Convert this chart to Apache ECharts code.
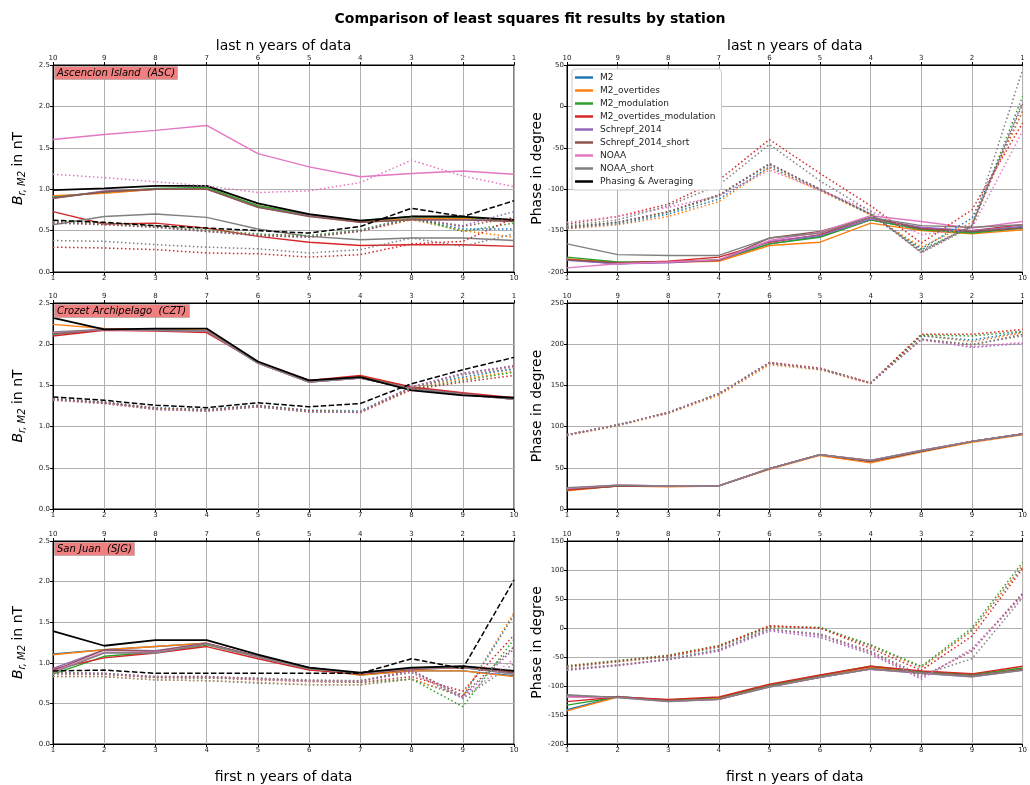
<!DOCTYPE html>
<html>
<head>
<meta charset="utf-8">
<script src="https://cdn.jsdelivr.net/npm/echarts@6/dist/echarts.min.js"></script>
<style>html,body{margin:0;padding:0;background:#fff;}#chart{width:1030px;height:785px;}</style>
</head>
<body>
<div id="chart"></div>
<script>
// ---- data ----
const seriesNames = ['M2','M2_overtides','M2_modulation','M2_overtides_modulation','Schrepf_2014','Schrepf_2014_short','NOAA','NOAA_short','Phasing & Averaging'];
const seriesColors = ['#1f77b4','#ff7f0e','#2ca02c','#d62728','#9467bd','#8c564b','#e377c2','#7f7f7f','#000000'];
const firstN = [1,2,3,4,5,6,7,8,9,10];
const lastN = [10,9,8,7,6,5,4,3,2,1];
const stations = ['Ascencion Island  (ASC)','Crozet Archipelago  (CZT)','San Juan  (SJG)'];

// Amplitude, first n years (one row per series, in seriesNames order)
const ascAmpFirst = [
 [0.91,0.96,1.00,1.01,0.79,0.68,0.61,0.64,0.65,0.62],
 [0.92,0.95,1.00,1.01,0.80,0.69,0.61,0.64,0.65,0.63],
 [0.90,0.97,1.01,1.02,0.80,0.69,0.62,0.67,0.66,0.63],
 [0.73,0.58,0.59,0.53,0.43,0.36,0.32,0.33,0.33,0.31],
 [0.89,0.98,1.00,1.00,0.78,0.68,0.60,0.63,0.63,0.62],
 [0.89,0.97,1.00,1.00,0.78,0.67,0.60,0.63,0.63,0.61],
 [1.60,1.66,1.71,1.77,1.43,1.27,1.15,1.19,1.22,1.18],
 [0.57,0.67,0.70,0.66,0.52,0.43,0.39,0.41,0.41,0.38],
 [0.99,1.01,1.04,1.04,0.83,0.70,0.62,0.67,0.67,0.63]
];
// Amplitude, last n years (values listed for n = 10 .. 1)
const ascAmpLast = [
 [0.60,0.58,0.55,0.50,0.45,0.43,0.50,0.64,0.52,0.52],
 [0.61,0.58,0.55,0.50,0.45,0.43,0.50,0.63,0.50,0.42],
 [0.62,0.59,0.56,0.51,0.46,0.44,0.51,0.66,0.49,0.59],
 [0.30,0.29,0.27,0.23,0.22,0.18,0.21,0.34,0.37,0.65],
 [0.60,0.58,0.54,0.49,0.44,0.42,0.50,0.65,0.56,0.73],
 [0.59,0.57,0.54,0.49,0.44,0.42,0.49,0.64,0.55,0.66],
 [1.18,1.14,1.09,1.04,0.96,0.98,1.08,1.35,1.16,1.03],
 [0.38,0.37,0.33,0.30,0.28,0.23,0.27,0.41,0.31,0.46],
 [0.625,0.60,0.56,0.53,0.50,0.47,0.55,0.77,0.67,0.86]
];
const ascPhaseFirst = [
 [-185,-190,-188,-186,-166,-157,-137,-148,-152,-146],
 [-184,-189,-188,-187,-168,-164,-141,-150,-154,-149],
 [-182,-188,-188,-185,-166,-158,-137,-149,-153,-147],
 [-185,-189,-187,-182,-164,-155,-134,-147,-150,-143],
 [-186,-190,-189,-186,-163,-156,-136,-146,-150,-145],
 [-185,-189,-188,-186,-159,-151,-134,-148,-151,-147],
 [-195,-190,-188,-185,-162,-152,-132,-139,-147,-139],
 [-166,-179,-180,-180,-159,-153,-134,-144,-146,-143]
];
const ascPhaseLast = [
 [-147,-142,-130,-112,-73,-101,-130,-172,-135,-6],
 [-148,-143,-133,-115,-74,-102,-131,-170,-140,-6],
 [-145,-140,-128,-108,-70,-100,-131,-173,-145,12],
 [-142,-133,-118,-89,-40,-81,-120,-165,-125,-20],
 [-147,-140,-127,-107,-70,-100,-130,-175,-143,5],
 [-146,-140,-127,-107,-69,-100,-130,-176,-144,3],
 [-140,-133,-122,-108,-77,-101,-126,-155,-147,-30],
 [-144,-137,-120,-95,-46,-90,-127,-177,-145,44]
];
const cztAmpFirst = [
 [2.12,2.18,2.17,2.16,1.78,1.55,1.60,1.46,1.40,1.34],
 [2.24,2.19,2.18,2.17,1.78,1.55,1.60,1.46,1.40,1.34],
 [2.12,2.18,2.17,2.16,1.78,1.55,1.61,1.47,1.40,1.34],
 [2.10,2.17,2.16,2.14,1.78,1.56,1.62,1.48,1.41,1.35],
 [2.13,2.18,2.17,2.16,1.77,1.54,1.59,1.46,1.40,1.33],
 [2.13,2.18,2.17,2.16,1.77,1.54,1.59,1.46,1.40,1.33],
 [2.14,2.18,2.17,2.16,1.77,1.54,1.59,1.46,1.39,1.33],
 [2.15,2.18,2.17,2.16,1.77,1.54,1.59,1.46,1.39,1.33],
 [2.32,2.18,2.19,2.19,1.79,1.56,1.60,1.44,1.38,1.35]
];
const cztAmpLast = [
 [1.34,1.30,1.23,1.21,1.26,1.20,1.19,1.48,1.60,1.70],
 [1.33,1.29,1.22,1.20,1.25,1.19,1.18,1.47,1.58,1.67],
 [1.33,1.29,1.22,1.20,1.25,1.19,1.18,1.46,1.56,1.66],
 [1.33,1.29,1.22,1.20,1.25,1.19,1.17,1.45,1.54,1.62],
 [1.33,1.29,1.21,1.19,1.24,1.18,1.18,1.48,1.65,1.74],
 [1.33,1.29,1.21,1.19,1.24,1.18,1.18,1.48,1.64,1.73],
 [1.32,1.28,1.21,1.19,1.24,1.18,1.18,1.48,1.64,1.72],
 [1.32,1.28,1.21,1.19,1.24,1.18,1.18,1.47,1.63,1.70],
 [1.36,1.32,1.26,1.23,1.29,1.24,1.28,1.52,1.69,1.84]
];
const cztPhaseFirst = [
 [24,28,28,28,49,66,58,70,82,91],
 [22,28,27,28,48,65,56,69,81,90],
 [24,28,28,28,49,66,58,70,82,91],
 [23,28,28,28,49,66,58,70,82,91],
 [25,29,28,28,49,66,59,71,82,91],
 [24,28,28,28,49,66,58,70,82,91],
 [25,29,28,28,49,66,59,71,82,91],
 [26,29,28,28,49,66,59,71,82,91]
];
const cztPhaseLast = [
 [90,102,117,140,177,170,153,210,205,215],
 [89,101,116,138,175,169,152,211,203,214],
 [90,102,117,140,177,170,153,211,210,216],
 [90,102,117,140,178,171,153,212,212,218],
 [90,102,117,140,177,170,153,206,196,201],
 [90,102,117,140,177,170,153,206,199,212],
 [90,102,117,140,177,170,153,205,197,202],
 [90,102,117,140,177,170,153,206,200,210]
];
const sjgAmpFirst = [
 [1.11,1.16,1.20,1.24,1.08,0.93,0.85,0.90,0.90,0.84],
 [1.10,1.16,1.20,1.24,1.08,0.93,0.85,0.90,0.90,0.83],
 [0.86,1.08,1.13,1.22,1.07,0.92,0.86,0.92,0.94,0.88],
 [0.92,1.06,1.12,1.20,1.05,0.91,0.86,0.92,0.94,0.88],
 [0.93,1.16,1.15,1.24,1.08,0.94,0.87,0.93,0.95,0.87],
 [0.90,1.16,1.14,1.24,1.08,0.94,0.87,0.93,0.95,0.87],
 [0.89,1.13,1.13,1.23,1.07,0.93,0.87,0.93,0.94,0.86],
 [0.88,1.12,1.12,1.23,1.07,0.93,0.87,0.93,0.94,0.86],
 [1.39,1.21,1.28,1.28,1.10,0.94,0.88,0.94,0.96,0.90]
];
const sjgAmpLast = [
 [0.83,0.83,0.79,0.78,0.75,0.73,0.73,0.80,0.58,1.59],
 [0.83,0.83,0.79,0.78,0.76,0.73,0.73,0.80,0.59,1.62],
 [0.86,0.86,0.82,0.81,0.80,0.77,0.76,0.80,0.46,1.29],
 [0.87,0.86,0.82,0.82,0.79,0.77,0.76,0.83,0.65,1.34],
 [0.87,0.87,0.83,0.83,0.80,0.78,0.77,0.91,0.58,1.17],
 [0.88,0.87,0.83,0.83,0.81,0.78,0.78,0.90,0.60,1.20],
 [0.86,0.86,0.82,0.82,0.80,0.77,0.77,0.89,0.57,1.05],
 [0.87,0.86,0.82,0.82,0.81,0.79,0.78,0.88,0.56,0.99],
 [0.90,0.91,0.87,0.87,0.87,0.87,0.87,1.05,0.93,2.02]
];
const sjgPhaseFirst = [
 [-141,-118,-125,-121,-100,-83,-68,-76,-81,-71],
 [-143,-119,-125,-121,-100,-83,-68,-75,-80,-70],
 [-133,-119,-124,-120,-99,-82,-66,-75,-80,-69],
 [-127,-119,-123,-119,-97,-81,-66,-74,-79,-66],
 [-118,-119,-126,-123,-101,-85,-71,-77,-83,-72],
 [-117,-119,-126,-123,-101,-85,-70,-77,-83,-72],
 [-119,-120,-127,-123,-102,-85,-71,-78,-84,-73],
 [-115,-120,-127,-123,-102,-85,-71,-78,-84,-73]
];
const sjgPhaseLast = [
 [-68,-58,-50,-33,1,0,-31,-68,-4,106],
 [-67,-58,-49,-32,2,0,-30,-68,-5,108],
 [-65,-56,-47,-30,3,1,-29,-66,0,113],
 [-66,-57,-48,-31,4,0,-35,-73,-14,102],
 [-73,-65,-55,-40,-5,-16,-45,-88,-36,57],
 [-71,-64,-54,-38,-2,-12,-42,-84,-40,60],
 [-72,-64,-54,-38,-3,-13,-43,-86,-38,55],
 [-72,-64,-54,-37,-2,-10,-40,-81,-53,52]
];

// ---- layout ----
const FONT = 'DejaVu Sans';
const panels = [
 {first: ascAmpFirst, last: ascAmpLast, min: 0, max: 2.5, interval: 0.5, amp: true,  left: 53,  top: 65,  h: 207},
 {first: ascPhaseFirst, last: ascPhaseLast, min: -200, max: 50, interval: 50, amp: false, left: 567, top: 65, h: 207},
 {first: cztAmpFirst, last: cztAmpLast, min: 0, max: 2.5, interval: 0.5, amp: true,  left: 53,  top: 303, h: 206},
 {first: cztPhaseFirst, last: cztPhaseLast, min: 0, max: 250, interval: 50, amp: false, left: 567, top: 303, h: 206},
 {first: sjgAmpFirst, last: sjgAmpLast, min: 0, max: 2.5, interval: 0.5, amp: true,  left: 53,  top: 541, h: 207},
 {first: sjgPhaseFirst, last: sjgPhaseLast, min: -200, max: 150, interval: 50, amp: false, left: 567, top: 541, h: 207}
];

const grids = [], xAxes = [], yAxes = [], series = [];
const axisLbl = {fontSize: 7, color: '#222', fontFamily: FONT};
const splitL = {show: true, lineStyle: {color: '#b0b0b0', width: 1}};
panels.forEach((p, gi) => {
  const row = Math.floor(gi / 2);
  grids.push({left: p.left, top: p.top, width: 461, height: p.h, show: true, borderColor: '#000', borderWidth: 1, backgroundColor: 'transparent'});
  xAxes.push({
    type: 'value', gridIndex: gi, position: 'bottom', min: 1, max: 10, interval: 1,
    axisLine: {show: true, onZero: false, lineStyle: {color: '#000', width: 1}},
    axisTick: {show: true, length: 3, lineStyle: {color: '#000'}},
    axisLabel: Object.assign({margin: 3}, axisLbl), splitLine: splitL,
    name: row === 2 ? 'first n years of data' : '', nameLocation: 'middle', nameGap: 26, nameMoveOverlap: false,
    nameTextStyle: {fontSize: 14, color: '#000', fontFamily: FONT}
  });
  xAxes.push({
    type: 'value', gridIndex: gi, position: 'top', min: 1, max: 10, interval: 1, inverse: true,
    axisLine: {show: true, onZero: false, lineStyle: {color: '#000', width: 1}},
    axisTick: {show: true, length: 3, lineStyle: {color: '#000'}},
    axisLabel: Object.assign({margin: 3}, axisLbl), splitLine: {show: false},
    name: row === 0 ? 'last n years of data' : '', nameLocation: 'middle', nameGap: 12, nameMoveOverlap: false,
    nameTextStyle: {fontSize: 14, color: '#000', fontFamily: FONT}
  });
  yAxes.push({
    type: 'value', gridIndex: gi, min: p.min, max: p.max, interval: p.interval,
    axisLine: {show: true, onZero: false, lineStyle: {color: '#000', width: 1}},
    axisTick: {show: true, length: 3, lineStyle: {color: '#000'}},
    axisLabel: Object.assign({margin: 3, formatter: v => p.amp ? v.toFixed(1) : String(v)}, axisLbl),
    splitLine: splitL,
    name: p.amp ? '{a|B}{b|r, M2}{c| in nT}' : 'Phase in degree',
    nameLocation: 'middle', nameGap: p.amp ? 26 : 23, nameMoveOverlap: false,
    nameTextStyle: {fontSize: 14, color: '#000', fontFamily: FONT,
      rich: {
        a: {fontSize: 14, fontStyle: 'italic', fontFamily: FONT, color: '#000', lineHeight: 18, verticalAlign: 'middle'},
        b: {fontSize: 10, fontStyle: 'italic', fontFamily: FONT, color: '#000', lineHeight: 18, verticalAlign: 'bottom', padding: [7, 0, 0, 0]},
        c: {fontSize: 14, fontFamily: FONT, color: '#000', lineHeight: 18, verticalAlign: 'middle'}
      }}
  });
  p.first.forEach((vals, k) => {
    series.push({
      type: 'line', name: seriesNames[k], xAxisIndex: 2 * gi, yAxisIndex: gi,
      data: firstN.map((n, i) => [n, vals[i]]), symbol: 'none', silent: true,
      lineStyle: {color: seriesColors[k], width: k === 8 ? 1.8 : 1.4},
      itemStyle: {color: seriesColors[k]}
    });
  });
  p.last.forEach((vals, k) => {
    series.push({
      type: 'line', name: seriesNames[k], xAxisIndex: 2 * gi + 1, yAxisIndex: gi,
      data: lastN.map((n, i) => [n, vals[i]]), symbol: 'none', silent: true,
      lineStyle: {color: seriesColors[k], width: 1.5, type: k === 8 ? [5.5, 2.4] : [1.5, 2.5]},
      itemStyle: {color: seriesColors[k]}
    });
  });
});

const titles = [{
  text: 'Comparison of least squares fit results by station', left: 525, top: 7, textAlign: 'center',
  textStyle: {fontSize: 14, fontWeight: 'bold', color: '#000', fontFamily: FONT}
}];
stations.forEach((s, i) => {
  titles.push({
    text: s, left: 54, top: panels[2 * i].top + 1, padding: [2, 3, 2, 3],
    backgroundColor: '#f08080', borderColor: '#999', borderWidth: 0.5,
    textStyle: {fontSize: 10, fontStyle: 'italic', fontWeight: 'normal', color: '#000', fontFamily: FONT}
  });
});

const chart = echarts.init(document.getElementById('chart'), null, {renderer: 'canvas'});
chart.setOption({
  animation: false,
  backgroundColor: '#fff',
  title: titles,
  legend: {
    data: seriesNames, orient: 'vertical', left: 572, top: 69,
    icon: 'rect', itemWidth: 18, itemHeight: 2.5, itemGap: 2,
    padding: [3, 6, 3, 3], backgroundColor: '#fff', borderColor: '#ccc', borderWidth: 1, borderRadius: 3,
    selectedMode: false,
    textStyle: {fontSize: 9, color: '#222', fontFamily: FONT, lineHeight: 11, padding: [0, 0, 0, 2]}
  },
  grid: grids, xAxis: xAxes, yAxis: yAxes, series: series
});
</script>
</body>
</html>
